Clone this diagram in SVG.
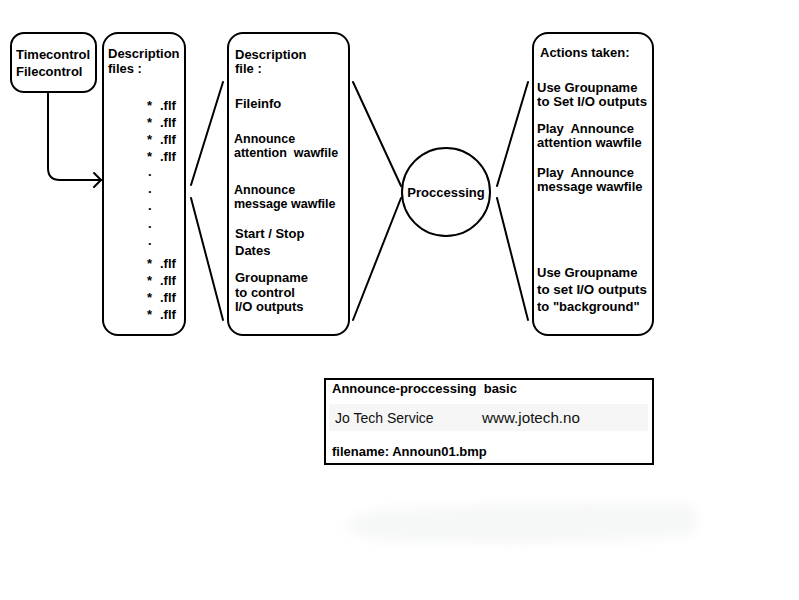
<svg xmlns="http://www.w3.org/2000/svg" width="799" height="600" viewBox="0 0 799 600">
<defs>
<style>
.box{fill:none;stroke:#000;stroke-width:2}
.t{font-family:"Liberation Sans",Arial,sans-serif;font-weight:bold;font-size:13px;fill:#000}
.s{font-size:12.5px}
.r{font-family:"Liberation Sans",Arial,sans-serif;font-size:14px;fill:#111}
.ln{fill:none;stroke:#000;stroke-width:2;stroke-linecap:round;stroke-linejoin:round}
</style>
<filter id="blur" x="-20%" y="-100%" width="140%" height="300%"><feGaussianBlur stdDeviation="6"/></filter>
</defs>
<rect width="799" height="600" fill="#fff"/>

<g id="connectors">
<path class="ln" d="M48,92 V168 Q48,180 60,180 H101"/>
<path class="ln" d="M94,173 L101,180 L94,187"/>
<line class="ln" x1="223" y1="82" x2="191" y2="185"/>
<line class="ln" x1="191" y1="198" x2="223" y2="320"/>
<line class="ln" x1="353" y1="82" x2="401" y2="186"/>
<line class="ln" x1="401" y1="198" x2="353" y2="320"/>
<line class="ln" x1="528" y1="82" x2="497" y2="186"/>
<line class="ln" x1="497" y1="198" x2="528" y2="320"/>
</g>

<g id="timecontrol">
<rect class="box" x="11" y="33" width="85" height="59" rx="13"/>
<text class="t" x="16" y="59">Timecontrol</text>
<text class="t" x="16" y="76">Filecontrol</text>
</g>

<g id="description-files">
<rect class="box" x="103" y="33" width="82" height="302" rx="15"/>
<text class="t" x="108" y="58">Description</text>
<text class="t" x="108" y="73">files :</text>
<g class="t">
<text x="147" y="110">* </text><text x="160" y="110">.flf</text>
<text x="147" y="127">* </text><text x="160" y="127">.flf</text>
<text x="147" y="144">* </text><text x="160" y="144">.flf</text>
<text x="147" y="161">* </text><text x="160" y="161">.flf</text>
<text x="148" y="176">.</text>
<text x="148" y="193">.</text>
<text x="148" y="210">.</text>
<text x="148" y="228">.</text>
<text x="148" y="245">.</text>
<text x="147" y="268">* </text><text x="160" y="268">.flf</text>
<text x="147" y="285">* </text><text x="160" y="285">.flf</text>
<text x="147" y="302">* </text><text x="160" y="302">.flf</text>
<text x="147" y="319">* </text><text x="160" y="319">.flf</text>
</g>
</g>

<g id="description-file">
<rect class="box" x="228" y="33" width="121" height="302" rx="15"/>
<text class="t" x="235" y="59">Description</text>
<text class="t" x="235" y="73">file :</text>
<text class="t" x="235" y="108">Fileinfo</text>
<text class="t s" x="234" y="143">Announce</text>
<text class="t s" x="234" y="157" xml:space="preserve">attention  wawfile</text>
<text class="t s" x="234" y="194">Announce</text>
<text class="t s" x="234" y="208">message wawfile</text>
<text class="t" x="235" y="238">Start / Stop</text>
<text class="t" x="235" y="255">Dates</text>
<text class="t" x="235" y="282">Groupname</text>
<text class="t" x="235" y="297">to control</text>
<text class="t" x="235" y="311">I/O outputs</text>
</g>

<g id="processing">
<ellipse class="box" cx="446" cy="192" rx="44" ry="44"/>
<text class="t" x="446" y="197" text-anchor="middle">Proccessing</text>
</g>

<g id="actions">
<rect class="box" x="533" y="33" width="120" height="302" rx="15"/>
<text class="t" x="540" y="57">Actions taken:</text>
<text class="t" x="537" y="92">Use Groupname</text>
<text class="t" x="537" y="106" textLength="110" lengthAdjust="spacingAndGlyphs">to Set I/O outputs</text>
<text class="t" x="537" y="133" xml:space="preserve">Play  Announce</text>
<text class="t" x="537" y="147">attention wawfile</text>
<text class="t" x="537" y="177" xml:space="preserve">Play  Announce</text>
<text class="t" x="537" y="191">message wawfile</text>
<text class="t" x="537" y="277">Use Groupname</text>
<text class="t" x="537" y="294" textLength="110" lengthAdjust="spacingAndGlyphs">to set I/O outputs</text>
<text class="t" x="537" y="311">to "background"</text>
</g>

<g id="title-block">
<rect class="box" x="325" y="379" width="328" height="85"/>
<rect x="329" y="404" width="319" height="27" fill="#f6f6f6"/>
<text class="t" x="332" y="393" xml:space="preserve">Announce-proccessing  basic</text>
<text class="r" x="335" y="423">Jo Tech Service</text>
<text class="r" x="482" y="423" textLength="98" lengthAdjust="spacingAndGlyphs">www.jotech.no</text>
<text class="t" x="332" y="456">filename: Announ01.bmp</text>
</g>

<path d="M348,522 Q360,508 420,508 Q560,500 690,505 Q705,515 690,535 Q600,545 450,542 Q360,543 348,530 Z" fill="#f6f7f7" filter="url(#blur)"/>
</svg>
